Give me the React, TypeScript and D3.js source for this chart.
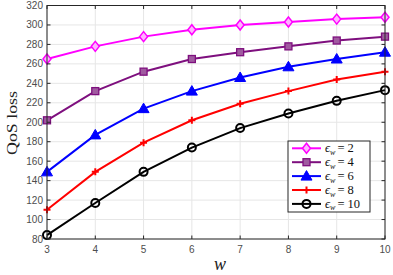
import React from "react";
import * as d3 from "d3";

const xs = [3, 4, 5, 6, 7, 8, 9, 10];
const eps2 = [265, 278, 288, 295, 300, 303, 306, 308];
const eps4 = [202, 232, 252, 265, 272, 278, 284, 288];
const eps6 = [149, 187, 214, 232, 246, 257, 265, 272];
const eps8 = [110, 149, 179, 202, 219, 232, 244, 252];
const eps10 = [84, 117, 149, 174, 194, 209, 222, 233];
const labels = ["2", "4", "6", "8", "10"];
const yTicks = [80, 100, 120, 140, 160, 180, 200, 220, 240, 260, 280, 300, 320];

const series = [
  { v: eps2, color: "#ff00ff", marker: "diamond" },
  { v: eps4, color: "#7e0f7e", marker: "square" },
  { v: eps6, color: "#0000ff", marker: "triangle" },
  { v: eps8, color: "#ff0000", marker: "plus" },
  { v: eps10, color: "#000000", marker: "circle" },
];

function Marker({ type, x, y, color }: { type: string; x: number; y: number; color: string }) {
  if (type === "diamond")
    return <path d={`M${x},${y - 5}L${x + 4},${y}L${x},${y + 5}L${x - 4},${y}Z`} fill="#ffb3ff" stroke={color} strokeWidth={1.5} />;
  if (type === "square")
    return <rect x={x - 3.5} y={y - 3.5} width={7} height={7} fill="#a05aa0" stroke={color} strokeWidth={1.3} />;
  if (type === "triangle")
    return <path d={`M${x},${y - 5.5}L${x + 5.5},${y + 4}L${x - 5.5},${y + 4}Z`} fill={color} stroke={color} strokeWidth={1} />;
  if (type === "plus")
    return <path d={`M${x - 3.5},${y}H${x + 3.5}M${x},${y - 3.5}V${y + 3.5}`} stroke={color} strokeWidth={2} />;
  return <circle cx={x} cy={y} r={4} fill="none" stroke={color} strokeWidth={2} />;
}

export default function App() {
  const W = 393, H = 275;
  const left = 47, right = 385, top = 5.5, bottom = 239;
  const x = d3.scaleLinear().domain([3, 10]).range([left, right]);
  const y = d3.scaleLinear().domain([80, 320]).range([bottom, top]);
  const line = d3.line<number>().x((_, i) => x(xs[i])).y((d) => y(d));
  const axisColor = "#262626";
  const tickColor = "#4d4d4d";
  return (
    <svg width={W} height={H} style={{ position: "absolute", left: 0, top: 0 }}>
      <rect width={W} height={H} fill="white" />
      {xs.map((t) => (
        <line key={"gx" + t} x1={x(t)} x2={x(t)} y1={top} y2={bottom} stroke="#e6e6e6" strokeWidth={1} />
      ))}
      {yTicks.map((t) => (
        <line key={"gy" + t} x1={left} x2={right} y1={y(t)} y2={y(t)} stroke="#e6e6e6" strokeWidth={1} />
      ))}
      {series.map((s, k) => (
        <g key={k}>
          <path d={line(s.v) || ""} fill="none" stroke={s.color} strokeWidth={2} />
          {s.v.map((v, i) => (
            <Marker key={i} type={s.marker} x={x(xs[i])} y={y(v)} color={s.color} />
          ))}
        </g>
      ))}
      <rect x={left} y={top} width={right - left} height={bottom - top} fill="none" stroke={axisColor} strokeWidth={1} />
      {xs.map((t) => (
        <g key={"tx" + t}>
          <line x1={x(t)} x2={x(t)} y1={bottom} y2={bottom - 3.5} stroke={axisColor} />
          <line x1={x(t)} x2={x(t)} y1={top} y2={top + 3.5} stroke={axisColor} />
          <text x={x(t)} y={bottom + 14} textAnchor="middle" fontFamily="Liberation Sans, Arial, sans-serif" fontSize={10} fill={tickColor}>{t}</text>
        </g>
      ))}
      {yTicks.map((t) => (
        <g key={"ty" + t}>
          <line x1={left} x2={left + 3.5} y1={y(t)} y2={y(t)} stroke={axisColor} />
          <line x1={right} x2={right - 3.5} y1={y(t)} y2={y(t)} stroke={axisColor} />
          <text x={left - 4} y={y(t) + 3.5} textAnchor="end" fontFamily="Liberation Sans, Arial, sans-serif" fontSize={10} fill={tickColor}>{t}</text>
        </g>
      ))}
      <text transform={`translate(17,123) rotate(-90)`} textAnchor="middle" fontFamily="Liberation Serif, Times New Roman, serif" fontSize={15} textLength={64} lengthAdjust="spacingAndGlyphs" fill="#222">QoS loss</text>
      <text x={220} y={270} textAnchor="middle" fontFamily="Liberation Serif, Times New Roman, serif" fontStyle="italic" fontSize={18} fill="#222">w</text>
      <g>
        <rect x={288} y={141} width={82} height={71} fill="white" stroke={axisColor} strokeWidth={1} />
        {series.map((s, k) => {
          const ly = 148.3 + k * 13.9;
          return (
            <g key={"lg" + k}>
              <line x1={292} x2={321} y1={ly} y2={ly} stroke={s.color} strokeWidth={2} />
              <Marker type={s.marker} x={306.5} y={ly} color={s.color} />
              <text x={325} y={ly + 4} fontFamily="Liberation Serif, Times New Roman, serif" fontSize={12.5} fill="#111">
                <tspan fontStyle="italic">ϵ</tspan>
                <tspan fontStyle="italic" fontSize={8} dy={2.5}>w</tspan>
                <tspan dy={-2.5} dx={2}>= {labels[k]}</tspan>
              </text>
            </g>
          );
        })}
      </g>
    </svg>
  );
}
